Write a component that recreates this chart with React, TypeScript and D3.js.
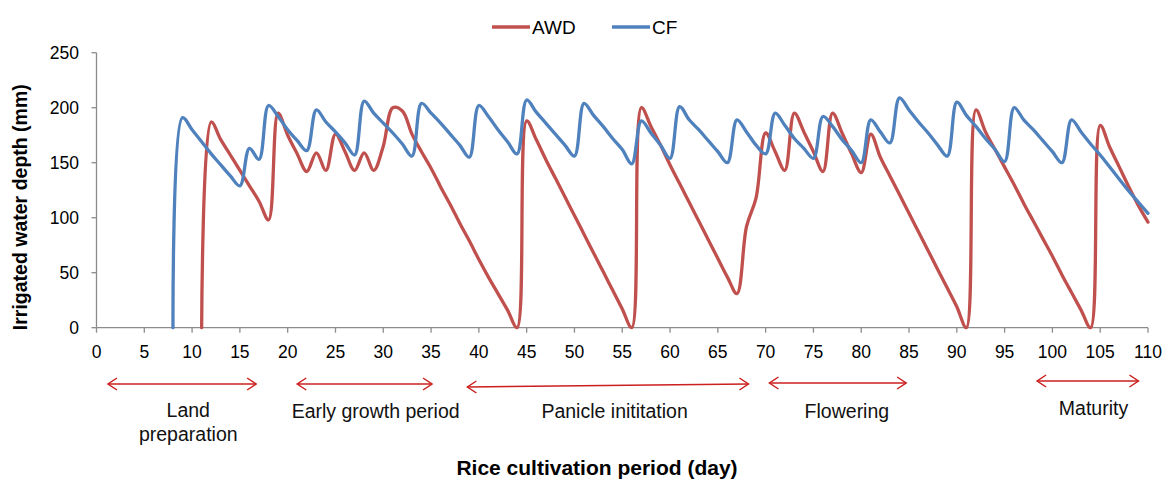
import React from "react";
import * as d3 from "d3";

// Daily irrigated water depth (mm)
const cfStartDay = 8;
const cfDepth = [
  0, 191, 180, 169, 158, 148, 138, 129, 163, 153, // 8-17
  202, 192, 180, 170, 161, 198, 187, 178, 168, 157, // 18-27
  206, 195, 186, 177, 167, 156, 204, 195, 186, 176, // 28-37
  166, 155, 202, 192, 180, 169, 158, 207, 196, 186, // 38-47
  176, 166, 156, 204, 193, 183, 172, 162, 149, 188, // 48-57
  177, 166, 154, 201, 189, 180, 170, 160, 150, 189, // 58-67
  178, 166, 158, 195, 184, 172, 163, 154, 192, 183, // 68-77
  171, 161, 150, 189, 178, 168, 209, 198, 187, 177, // 78-87
  166, 156, 205, 193, 183, 172, 162, 151, 200, 189, // 88-97
  180, 170, 160, 150, 189, 178, 167, 157, 146, 135, // 98-107
  124, 114, 104, // 108-110
];

const awdStartDay = 11;
const awdDepth = [
  0, 187, 171, 157, 143, 129, 115, 98, 195, 175, // 11-20
  158, 142, 159, 143, 176, 160, 143, 159, 143, 165, // 21-30
  200, 197, 176, 160, 145, 128, 112, 95, 79, 62, // 31-40
  46, 31, 16, 0, 188, 171, 153, 136, 119, 102, // 41-50
  85, 68, 51, 34, 17, 0, 200, 183, 166, 148, // 51-60
  131, 114, 97, 80, 63, 46, 31, 92, 118, 177, // 61-70
  160, 143, 195, 178, 160, 142, 195, 177, 158, 141, // 71-80
  176, 155, 138, 121, 104, 87, 70, 53, 36, 19, // 81-90
  0, 198, 178, 162, 146, 130, 113, 97, 81, 65, // 91-100
  48, 32, 16, 0, 184, 164, 146, 128, 111, 96, // 101-110
];

const xTicks = d3.range(0, 111, 5);
const yTicks = [0, 50, 100, 150, 200, 250];

// Growth stages marked below the axis (arrow span in days, label centre in days)
const stageNames = ["Land preparation", "Early growth period", "Panicle inititation", "Flowering", "Maturity"];
const stageStart = [1.2, 21.0, 38.8, 70.4, 98.4];
const stageEnd = [16.7, 35.1, 68.2, 84.7, 109.0];
const stageLabelDay = [9.6, 29.2, 54.2, 78.5, 104.3];
const stageLines = [["Land", "preparation"], ["Early growth period"], ["Panicle inititation"], ["Flowering"], ["Maturity"]];

const W = 1166;
const H = 482;
const AWD_COLOR = "#c0504d";
const CF_COLOR = "#4f81bd";
const AXIS_COLOR = "#8c8c8c";
const ARROW_COLOR = "#cc1f1f";
const FONT = "'Liberation Sans', Arial, sans-serif";

export default function App() {
  const x = d3.scaleLinear().domain([0, 110]).range([96.5, 1148]);
  const y = d3.scaleLinear().domain([0, 250]).range([327.7, 52.7]);

  const line = d3
    .line<[number, number]>()
    .x((d) => x(d[0]))
    .y((d) => y(d[1]))
    .curve(d3.curveCatmullRom.alpha(0.5));

  const cfPts: [number, number][] = cfDepth.map((v, i) => [cfStartDay + i, v]);
  const awdPts: [number, number][] = awdDepth.map((v, i) => [awdStartDay + i, v]);

  const arrowY = [384, 384, 387, 383, 381];
  const arrowY2 = [384, 384, 384, 383, 381];
  const labelBase = [417, 418, 418, 418, 415];

  const head = (x0: number, y0: number, dir: number) =>
    `M${x0 + dir * 9},${y0 - 6}L${x0},${y0}L${x0 + dir * 9},${y0 + 6}`;

  return (
    <svg
      width={W}
      height={H}
      style={{ position: "absolute", left: 0, top: 0, background: "#fff" }}
      fontFamily={FONT}
    >
      <rect width={W} height={H} fill="#fff" />

      {/* legend */}
      <g fontSize={19}>
        <line x1={492} x2={530} y1={27} y2={27} stroke={AWD_COLOR} strokeWidth={3.5} />
        <text x={532} y={34} fill="#000">AWD</text>
        <line x1={612} x2={650} y1={27} y2={27} stroke={CF_COLOR} strokeWidth={3.5} />
        <text x={652} y={34} fill="#000">CF</text>
      </g>

      {/* y axis */}
      <line x1={x(0)} x2={x(0)} y1={y(250)} y2={y(0)} stroke={AXIS_COLOR} strokeWidth={1.3} />
      {yTicks.map((t) => (
        <g key={"y" + t}>
          <line x1={x(0) - 5} x2={x(0)} y1={y(t)} y2={y(t)} stroke={AXIS_COLOR} strokeWidth={1.3} />
          <text x={79} y={y(t) + 6} textAnchor="end" fontSize={17.5} fill="#000">
            {t}
          </text>
        </g>
      ))}

      {/* x axis */}
      <line x1={x(0)} x2={x(110)} y1={y(0)} y2={y(0)} stroke={AXIS_COLOR} strokeWidth={1.3} />
      {xTicks.map((t) => (
        <g key={"x" + t}>
          <line x1={x(t)} x2={x(t)} y1={y(0)} y2={y(0) + 5} stroke={AXIS_COLOR} strokeWidth={1.3} />
          <text x={x(t)} y={358} textAnchor="middle" fontSize={17.5} fill="#000">
            {t}
          </text>
        </g>
      ))}

      {/* series */}
      <path d={line(awdPts) ?? ""} fill="none" stroke={AWD_COLOR} strokeWidth={3.3} strokeLinejoin="round" strokeLinecap="round" />
      <path d={line(cfPts) ?? ""} fill="none" stroke={CF_COLOR} strokeWidth={3.3} strokeLinejoin="round" strokeLinecap="round" />

      {/* axis titles */}
      <text
        transform={`translate(27,${(y(0) + y(250)) / 2 + 17}) rotate(-90)`}
        textAnchor="middle"
        fontSize={19.5}
        fontWeight="bold"
        fill="#000"
      >
        Irrigated water depth (mm)
      </text>
      <text x={597} y={475} textAnchor="middle" fontSize={21} fontWeight="bold" fill="#000">
        Rice cultivation period (day)
      </text>

      {/* growth stages */}
      {stageNames.map((name, i) => {
        const x0 = x(stageStart[i]);
        const x1 = x(stageEnd[i]);
        const cx = x(stageLabelDay[i]);
        return (
          <g key={name}>
            <line x1={x0} x2={x1} y1={arrowY[i]} y2={arrowY2[i]} stroke={ARROW_COLOR} strokeWidth={1.5} />
            <path d={head(x0, arrowY[i], 1)} fill="none" stroke={ARROW_COLOR} strokeWidth={1.5} />
            <path d={head(x1, arrowY2[i], -1)} fill="none" stroke={ARROW_COLOR} strokeWidth={1.5} />
            {stageLines[i].map((s, j) => (
              <text key={s} x={cx} y={labelBase[i] + j * 24} textAnchor="middle" fontSize={19.5} fill="#111">
                {s}
              </text>
            ))}
          </g>
        );
      })}
    </svg>
  );
}
